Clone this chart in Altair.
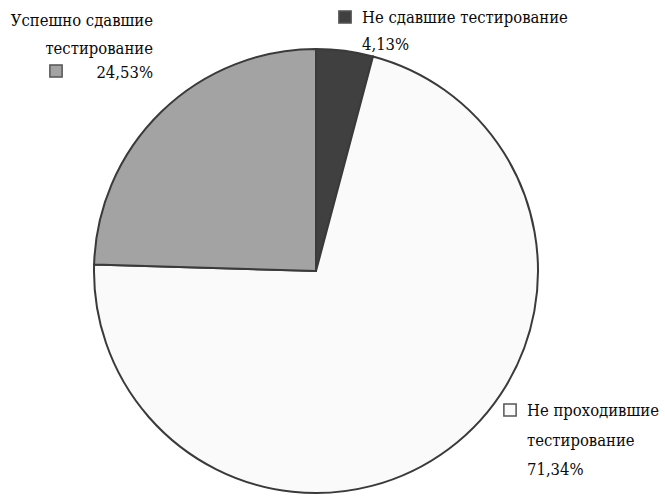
import altair as alt
import pandas as pd

categories = ["Не сдавшие тестирование", "Не проходившие тестирование", "Успешно сдавшие тестирование"]
shares = [4.13, 71.34, 24.53]
share_labels = ["4,13%", "71,34%", "24,53%"]
colors = ["#404040", "#fafafa", "#a3a3a3"]

df = pd.DataFrame({"cat": categories, "share": shares, "order": [0, 1, 2]})

W, H = 665, 498
CX, CY, R = 316, 271, 222
FONT = "DejaVu Serif Condensed"
FS = 16.5

pie = alt.Chart(df).mark_arc(outerRadius=R, stroke="#3a3a3a", strokeWidth=2).encode(
    theta=alt.Theta("share:Q", stack=True),
    order=alt.Order("order:Q"),
    color=alt.Color("cat:N", scale=alt.Scale(domain=categories, range=colors), legend=None),
    x=alt.value(CX), y=alt.value(CY),
)

base = alt.Chart(pd.DataFrame({"k": [0]}))

def txt(s, x, y, align="left"):
    return base.mark_text(font=FONT, fontSize=FS, align=align, baseline="middle", color="#0a0a0a").encode(
        text=alt.value(s), x=alt.value(x), y=alt.value(y))

def sq(i, x, y):
    return base.mark_square(size=150, filled=True, fill=colors[i], stroke="#555", strokeWidth=1.5, opacity=1).encode(
        x=alt.value(x), y=alt.value(y))

g1, g2 = categories[2].rsplit(" ", 1)
w1, w2 = categories[1].rsplit(" ", 1)
layers = [
    pie,
    # gray
    txt(g1, 153, 21, "right"), txt(g2, 153, 49, "right"), sq(2, 56, 71), txt(share_labels[2], 153, 73, "right"),
    # dark
    sq(0, 345, 17), txt(categories[0], 362, 18), txt(share_labels[0], 362, 45),
    # white
    sq(1, 510, 410), txt(w1, 527, 411), txt(w2, 527, 441), txt(share_labels[1], 527, 470),
]

chart = alt.layer(*layers).properties(
    width=W, height=H, autosize=alt.AutoSizeParams(type="none"), padding=0, background="white"
).configure_view(stroke=None)

chart.save("out.html", embed_options={"renderer": "svg", "actions": False})
